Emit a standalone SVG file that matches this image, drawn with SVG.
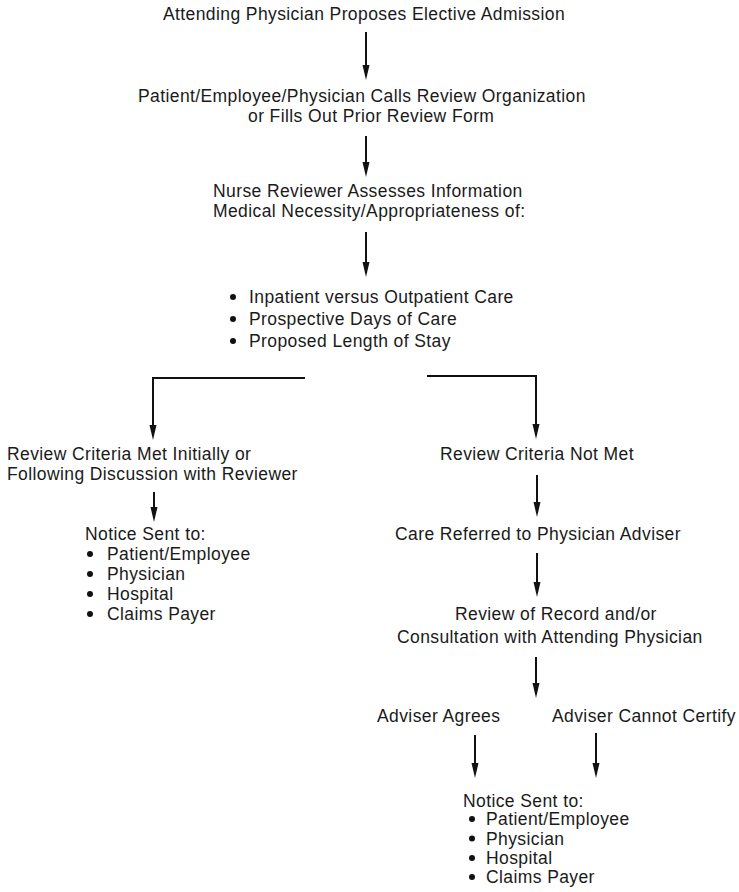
<svg xmlns="http://www.w3.org/2000/svg" width="739" height="892" viewBox="0 0 739 892">
<defs>
<style>
text{font-family:"Liberation Sans",Arial,Helvetica,sans-serif;font-size:17.5px;letter-spacing:0.4px;fill:#1a1a1a}
.c{stroke:#111;stroke-width:2;fill:none}
.b{fill:#111}
</style>
<marker id="ah" markerUnits="userSpaceOnUse" markerWidth="16" markerHeight="10" refX="0" refY="3.5" orient="auto" viewBox="0 0 16 7" overflow="visible">
<path d="M0,0 L15,3.5 L0,7 z" fill="#111"/>
</marker>
</defs>
<rect width="739" height="892" fill="#fff"/>
<g id="connectors">
<path class="c" d="M366,32 V65" marker-end="url(#ah)"/>
<path class="c" d="M366,136 V162" marker-end="url(#ah)"/>
<path class="c" d="M366,232 V262" marker-end="url(#ah)"/>
<path class="c" d="M305,378 H153 V425" marker-end="url(#ah)"/>
<path class="c" d="M427,376 H536 V424" marker-end="url(#ah)"/>
<path class="c" d="M154,492 V507" marker-end="url(#ah)"/>
<path class="c" d="M537,475 V502" marker-end="url(#ah)"/>
<path class="c" d="M537,553 V582" marker-end="url(#ah)"/>
<path class="c" d="M536,657 V683" marker-end="url(#ah)"/>
<path class="c" d="M475,735 V763" marker-end="url(#ah)"/>
<path class="c" d="M596,733 V763" marker-end="url(#ah)"/>
</g>
<g id="n1"><text x="163" y="20">Attending Physician Proposes Elective Admission</text></g>
<g id="n2"><text x="138" y="102">Patient/Employee/Physician Calls Review Organization</text><text x="248" y="122">or Fills Out Prior Review Form</text></g>
<g id="n3"><text x="213" y="197">Nurse Reviewer Assesses Information</text><text x="213" y="217">Medical Necessity/Appropriateness of:</text></g>
<g id="n4">
<circle class="b" cx="233" cy="297" r="3"/><text x="249" y="303">Inpatient versus Outpatient Care</text>
<circle class="b" cx="233" cy="319" r="3"/><text x="249" y="325">Prospective Days of Care</text>
<circle class="b" cx="233" cy="341" r="3"/><text x="249" y="347">Proposed Length of Stay</text>
</g>
<g id="n5"><text x="7" y="460">Review Criteria Met Initially or</text><text x="7" y="480">Following Discussion with Reviewer</text></g>
<g id="n6">
<text x="85" y="540">Notice Sent to:</text>
<circle class="b" cx="90" cy="554" r="3"/><text x="107" y="560">Patient/Employee</text>
<circle class="b" cx="90" cy="574" r="3"/><text x="107" y="580">Physician</text>
<circle class="b" cx="90" cy="594" r="3"/><text x="107" y="600">Hospital</text>
<circle class="b" cx="90" cy="614" r="3"/><text x="107" y="620">Claims Payer</text>
</g>
<g id="n7"><text x="440" y="460">Review Criteria Not Met</text></g>
<g id="n8"><text x="395" y="540">Care Referred to Physician Adviser</text></g>
<g id="n9"><text x="455" y="620">Review of Record and/or</text><text x="397" y="643">Consultation with Attending Physician</text></g>
<g id="n10"><text x="377" y="722">Adviser Agrees</text></g>
<g id="n11"><text x="552" y="722">Adviser Cannot Certify</text></g>
<g id="n12">
<text x="463" y="807">Notice Sent to:</text>
<circle class="b" cx="472" cy="819" r="3"/><text x="486" y="825">Patient/Employee</text>
<circle class="b" cx="472" cy="838.5" r="3"/><text x="486" y="844.5">Physician</text>
<circle class="b" cx="472" cy="858" r="3"/><text x="486" y="864">Hospital</text>
<circle class="b" cx="472" cy="877" r="3"/><text x="486" y="883">Claims Payer</text>
</g>
</svg>
